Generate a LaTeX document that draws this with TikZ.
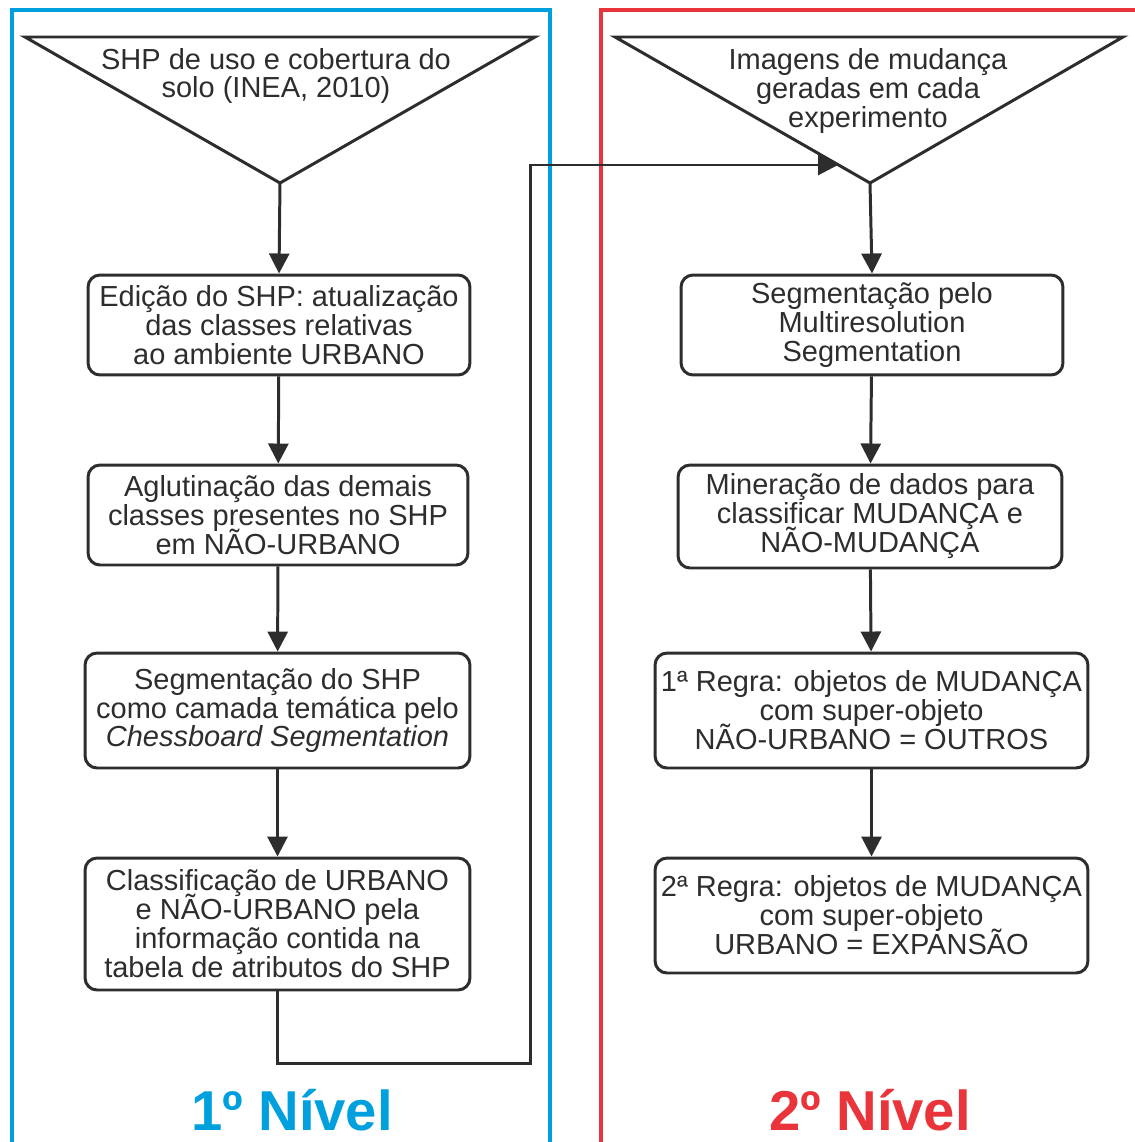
\documentclass[tikz,border=0pt]{standalone}
\usepackage{fontspec}
\setmainfont{Liberation Sans}
\usetikzlibrary{arrows.meta}
\definecolor{nivelum}{RGB}{0,160,222}
\definecolor{niveldois}{RGB}{232,52,58}
\definecolor{traco}{RGB}{45,45,45}
\newcommand{\letracaixa}{\fontsize{16.5}{16.5}\selectfont\setlength{\lineskiplimit}{-20pt}}

\begin{document}
\begin{tikzpicture}[x=0.02cm, y=-0.02cm,
    caixa/.style={draw=traco, line width=1.7pt, rounded corners=0.24cm,
      align=center, text=traco, inner sep=0pt, font=\letracaixa},
    seta/.style={draw=traco, line width=1.7pt,
      -{Triangle[length=0.4cm,width=0.4cm]}},
    funil/.style={draw=traco, line width=1.7pt, line join=miter},
    rotulo/.style={font=\fontsize{32}{32}\selectfont\bfseries, anchor=base}]
    \useasboundingbox (0,0) rectangle (1135,1142);
    % Molduras dos niveis
    \draw[nivelum, line width=2.3pt] (12,1150) |- (550,10) -- (550,1150);
    \draw[niveldois, line width=2.3pt] (601,1150) |- (1145,10);
    % Entrada do 1o nivel
    \draw[funil] (25,37) -- (535,37) -- (280,183) -- cycle;
    \coordinate (bicoA) at (280,183);
    \node[caixa, draw=none] (entA) at (276,76) {SHP de uso e cobertura do\\solo (INEA, 2010)};
    % Etapas do 1o nivel
    \node[caixa, minimum width=7.64cm, minimum height=2.0cm] (e1) at (279,325)
      {Edição do SHP: atualização\\das classes relativas\\ao ambiente URBANO};
    \node[caixa, minimum width=7.6cm, minimum height=2.0cm] (e2) at (278,515)
      {Aglutinação das demais\\classes presentes no SHP\\em NÃO-URBANO};
    \node[caixa, minimum width=7.7cm, minimum height=2.3cm] (e3) at (277.5,710.5)
      {Segmentação do SHP\\como camada temática pelo\\\textit{Chessboard Segmentation}};
    \node[caixa, minimum width=7.7cm, minimum height=2.64cm] (e4) at (277.5,924)
      {Classificação de URBANO\\e NÃO-URBANO pela\\informação contida na\\tabela de atributos do SHP};
    % Entrada do 2o nivel
    \draw[funil] (615,37) -- (1123,37) -- (870,183) -- cycle;
    \coordinate (bicoB) at (870,183);
    \coordinate (ladoB) at (838,165);
    \node[caixa, draw=none] (entB) at (868,91) {Imagens de mudança\\geradas em cada\\experimento};
    % Etapas do 2o nivel
    \node[caixa, minimum width=7.64cm, minimum height=2.0cm] (d1) at (872,325)
      {Segmentação pelo\\Multiresolution\\Segmentation};
    \node[caixa, minimum width=7.68cm, minimum height=2.06cm] (d2) at (870,516.5)
      {Mineração de dados para\\classificar MUDANÇA e\\NÃO-MUDANÇA};
    \node[caixa, minimum width=8.66cm, minimum height=2.3cm] (d3) at (871.5,710.5)
      {1ª Regra: objetos de MUDANÇA\\com super-objeto\\NÃO-URBANO = OUTROS};
    \node[caixa, minimum width=8.66cm, minimum height=2.3cm] (d4) at (871.5,915.5)
      {2ª Regra: objetos de MUDANÇA\\com super-objeto\\URBANO = EXPANSÃO};
    % Ligacoes
    \draw[seta] (bicoA) -- (e1.north);
    \draw[seta] (e1) -- (e2);
    \draw[seta] (e2) -- (e3);
    \draw[seta] (e3) -- (e4);
    \draw[seta] (e4.south) -- ++(0,72) -| (530,165) -- (ladoB);
    \draw[seta] (bicoB) -- (d1.north);
    \draw[seta] (d1) -- (d2);
    \draw[seta] (d2) -- (d3);
    \draw[seta] (d3) -- (d4);
    % Rotulos
    \node[rotulo, text=nivelum] (rotA) at (292,1130) {1º Nível};
    \node[rotulo, text=niveldois] (rotB) at (870,1130) {2º Nível};
\end{tikzpicture}
\end{document}
